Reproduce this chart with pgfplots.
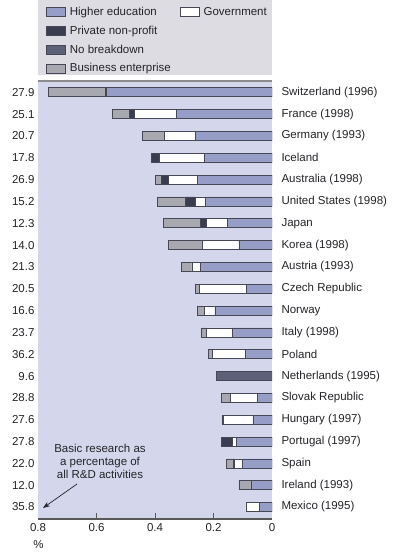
\documentclass[border=0pt]{standalone}
\usepackage{fontspec}
\setmainfont{Liberation Sans}
\usepackage{pgfplots}
\usepackage{pgfplotstable}
\pgfplotsset{compat=1.18}
\usetikzlibrary{arrows.meta}
\definecolor{plotbg}{RGB}{212,215,236}
\definecolor{hecol}{RGB}{150,158,200}
\definecolor{pnpcol}{RGB}{58,61,80}
\definecolor{nobcol}{RGB}{92,97,120}
\definecolor{buscol}{RGB}{168,168,176}
\definecolor{legbg}{RGB}{220,220,226}
\definecolor{edge}{RGB}{70,72,85}
\definecolor{txt}{RGB}{35,35,40}
\newcommand\lab{\fontsize{11.5bp}{13bp}\selectfont}

\pgfplotstableread{
y he gov pnp nob bus
0 0.565 0.005 0 0 0.193
1 0.328 0.143 0.015 0 0.059
2 0.263 0.104 0 0 0.077
3 0.231 0.155 0.025 0 0
4 0.254 0.100 0.023 0 0.023
5 0.229 0.034 0.033 0 0.096
6 0.151 0.074 0.021 0 0.124
7 0.113 0.125 0 0 0.117
8 0.246 0.028 0 0 0.036
9 0.087 0.160 0 0 0.014
10 0.195 0.037 0 0 0.022
11 0.136 0.088 0 0 0.017
12 0.092 0.112 0 0 0.012
13 0 0 0 0.189 0
14 0.050 0.092 0 0 0.030
15 0.065 0.100 0 0 0.006
16 0.121 0.015 0.036 0 0
17 0.100 0.029 0.004 0 0.024
18 0.070 0 0 0 0.043
19 0.044 0.045 0 0 0
}\data

\begin{document}
\begin{tikzpicture}[x=1bp,y=1bp]
\useasboundingbox (0,0) rectangle (396,553);
\fill[legbg] (38,478) rectangle (272,553);
\begin{axis}[at={(38bp,34bp)}, anchor=south west, scale only axis,
 width=234bp, height=438bp,
 xbar stacked, bar width=9bp,
 x dir=reverse, y dir=reverse,
 xmin=0, xmax=0.8, ymin=-0.52, ymax=19.55,
 axis background/.style={fill=plotbg},
 axis line style={draw=none},
 tick pos=left,
 xtick={0.2,0.4,0.6}, extra x ticks={0,0.8},
 extra x tick style={major tick length=0pt},
 xtick align=inside, major tick length=6bp,
 xtick style={draw=black!65, line width=1bp},
 ytick={0,...,19},
 yticklabels={27.9,25.1,20.7,17.8,26.9,15.2,12.3,14.0,21.3,20.5,16.6,23.7,36.2,9.6,28.8,27.6,27.8,22.0,12.0,35.8},
 ytick style={draw=none},
 every tick label/.append style={font=\lab, text=txt},
 xticklabel style={yshift=-1bp},
 /pgf/number format/assume math mode=true,
 every axis plot/.append style={draw=edge, line width=0.7bp},
]
\addplot[fill=hecol] table[x=he,y=y]{\data};
\addplot[fill=white] table[x=gov,y=y]{\data};
\addplot[fill=pnpcol] table[x=pnp,y=y]{\data};
\addplot[fill=nobcol] table[x=nob,y=y]{\data};
\addplot[fill=buscol] table[x=bus,y=y]{\data};
\end{axis}
\begin{axis}[at={(38bp,34bp)}, anchor=south west, scale only axis,
 width=234bp, height=438bp,
 x dir=reverse, y dir=reverse,
 xmin=0, xmax=0.8, ymin=-0.52, ymax=19.55,
 axis line style={draw=none},
 xtick=\empty,
 ytick={0,...,19}, yticklabel pos=right,
 yticklabels={Switzerland (1996),France (1998),Germany (1993),Iceland,Australia (1998),United States (1998),Japan,Korea (1998),Austria (1993),Czech Republic,Norway,Italy (1998),Poland,Netherlands (1995),Slovak Republic,Hungary (1997),Portugal (1997),Spain,Ireland (1993),Mexico (1995)},
 ytick style={draw=none},
 yticklabel style={font=\lab, text=txt, xshift=6bp},
 legend columns=2,
 legend cell align=left,
 legend image code/.code={\draw[#1,/tikz/.cd,yshift=-4.5bp] (0bp,0bp) rectangle (19bp,9bp);},
 legend style={at={(0,1)}, anchor=north west, xshift=5bp, yshift=78bp,
   draw=none, fill=none, font=\lab, text=txt,
   /tikz/every even column/.append style={column sep=7bp},
   /tikz/every odd column/.append style={column sep=2bp},
   /tikz/row sep=5bp},
]
\addlegendimage{fill=hecol, draw=edge, line width=0.7bp}\addlegendentry{Higher education}
\addlegendimage{fill=white, draw=edge, line width=0.7bp}\addlegendentry{Government}
\addlegendimage{fill=pnpcol, draw=edge, line width=0.7bp}\addlegendentry{Private non-profit}
\addlegendimage{empty legend}\addlegendentry{}
\addlegendimage{fill=nobcol, draw=edge, line width=0.7bp}\addlegendentry{No breakdown}
\addlegendimage{empty legend}\addlegendentry{}
\addlegendimage{fill=buscol, draw=edge, line width=0.7bp}\addlegendentry{Business enterprise}
\end{axis}
\draw[black!45, line width=1.5bp] (38,472) -- (272,472);
\draw[black!65, line width=2bp] (38,34) -- (272,34);
\node[font=\lab, text=txt] at (38.5,8) {\%};
\node[font=\lab, text=txt, align=center] at (100,92) {Basic research as\\a percentage of\\all R\&D activities};
\draw[txt, line width=0.7bp, -{Stealth[length=7bp,width=5bp]}] (77,69) -- (43,45);
\end{tikzpicture}
\end{document}
